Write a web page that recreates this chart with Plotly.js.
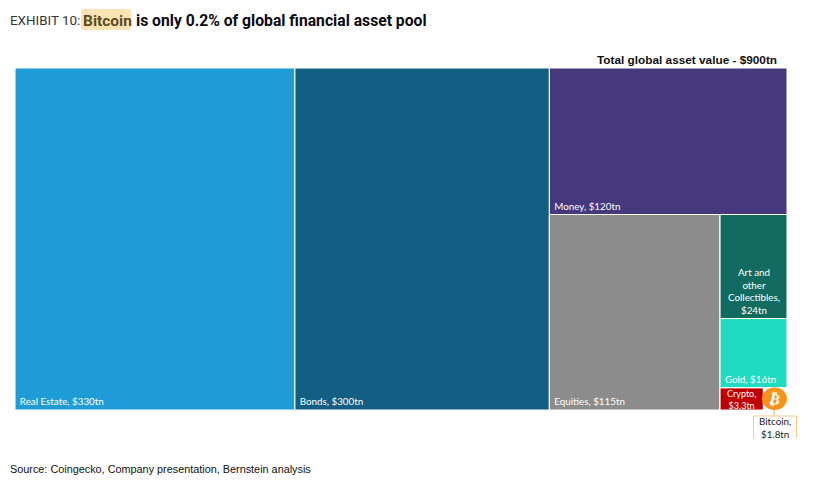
<!DOCTYPE html>
<html><head><meta charset="utf-8">
<script src="https://cdn.plot.ly/plotly-3.0.1.min.js"></script>
<style>html,body{margin:0;padding:0;background:#fff}#c{width:824px;height:487px}</style>
</head><body><div id="c"></div>
<script>
const ids=["root","Real Estate","Bonds","rest","Money","lower","Equities","small","Art","Gold","cryptoRow","Crypto","Bitcoin"];
const parents=["","root","root","root","rest","rest","lower","lower","small","small","small","cryptoRow","cryptoRow"];
const values=[910.1,330,300,280.1,120,160.1,115,45.1,24,16,5.1,3.3,1.8];
const labels=["","Real Estate, $330tn","Bonds, $300tn","","Money, $120tn","","Equities, $115tn","","","Gold, $16tn","","",""];
const colors=["rgba(0,0,0,0)","#1f9bd8","#125e85","rgba(0,0,0,0)","#46387c","rgba(0,0,0,0)","#8c8c8c","rgba(0,0,0,0)","#126b60","#1fdcc0","rgba(0,0,0,0)","#c00000","#ffffff"];
const W=824,H=487;
const X=v=>v/W, Y=v=>1-v/H;
const trace={type:"treemap",ids:ids,parents:parents,values:values,text:labels.map(t=>t?"\u2009\u200a"+t:""),labels:ids,
 branchvalues:"total",textinfo:"text",hoverinfo:"skip",sort:false,
 tiling:{packing:"slice-dice",pad:0},pathbar:{visible:false},
 marker:{colors:colors,line:{color:"#ffffff",width:1},pad:{t:0,l:0,r:0,b:0}},
 textposition:"bottom left",textfont:{family:"Lato",size:9.8,color:"#ffffff"},
 domain:{x:[X(15),X(787)],y:[Y(410),Y(68)]}};
const ann=(x,y,text,o)=>Object.assign({xref:"paper",yref:"paper",x:X(x),y:Y(y),text:text,showarrow:false,xanchor:"left",yanchor:"middle"},o||{});
const cell={family:"Lato",size:9.8,color:"#fff"};
const layout={width:W,height:H,margin:{l:0,r:0,t:0,b:0},paper_bgcolor:"#fff",showlegend:false,
 shapes:[
  {type:"path",xref:"paper",yref:"paper",path:`M${X(83)},${Y(9)} L${X(129)},${Y(9)} Q${X(131)},${Y(9)} ${X(131)},${Y(11)} L${X(131)},${Y(28)} Q${X(131)},${Y(30)} ${X(129)},${Y(30)} L${X(83)},${Y(30)} Q${X(81)},${Y(30)} ${X(81)},${Y(28)} L${X(81)},${Y(11)} Q${X(81)},${Y(9)} ${X(83)},${Y(9)} Z`,fillcolor:"#fce3b4",line:{width:0},layer:"below"},
  {type:"line",xref:"paper",yref:"paper",x0:X(774),x1:X(774),y0:Y(409),y1:Y(416),line:{color:"#f7a84a",width:1}},
  {type:"path",xref:"paper",yref:"paper",path:`M${X(753.5)},${Y(438)} L${X(753.5)},${Y(416)} L${X(796.5)},${Y(416)} L${X(796.5)},${Y(438)}`,line:{color:"#fbc888",width:1}},
  {type:"circle",xref:"paper",yref:"paper",x0:X(762),x1:X(787),y0:Y(387.5),y1:Y(410),fillcolor:"#f7931a",line:{width:0}}
 ],
 annotations:[
  ann(8,20.5,"EXHIBIT 10:",{font:{family:"Roboto",size:13.4,color:"#333"}}),
  ann(81,20.5,"<b>Bitcoin</b>",{font:{family:"Roboto",size:15.5,color:"#5e4a1e"}}),
  ann(134,20.5,"<b>is only 0.2% of global financial asset pool</b>",{font:{family:"Roboto",size:15.7,color:"#0a0a14"}}),
  ann(778.5,60,"<b>Total global asset value - $900tn</b>",{xanchor:"right",font:{family:"Liberation Sans",size:11.8,color:"#111"}}),
  ann(753.5,291,"Art and<br>other<br>Collectibles,<br>$24tn",{xanchor:"center",align:"center",font:cell}),
  ann(741,399.5,"Crypto,<br>$3.3tn",{xanchor:"center",align:"center",font:{family:"Lato",size:9,color:"#fff"}}),
  ann(774.5,399,"<b>₿</b>",{xanchor:"center",textangle:14,font:{family:"DejaVu Sans",size:15,color:"#fff"}}),
  ann(775,427,"Bitcoin,<br>$1.8tn",{xanchor:"center",align:"center",font:{family:"Lato",size:9.8,color:"#222"}}),
  ann(8,469,"Source: Coingecko, Company presentation, Bernstein analysis",{font:{family:"Liberation Sans",size:10.85,color:"#111"}})
 ]};
Plotly.newPlot("c",[trace],layout,{displayModeBar:false,staticPlot:true});
</script></body></html>
